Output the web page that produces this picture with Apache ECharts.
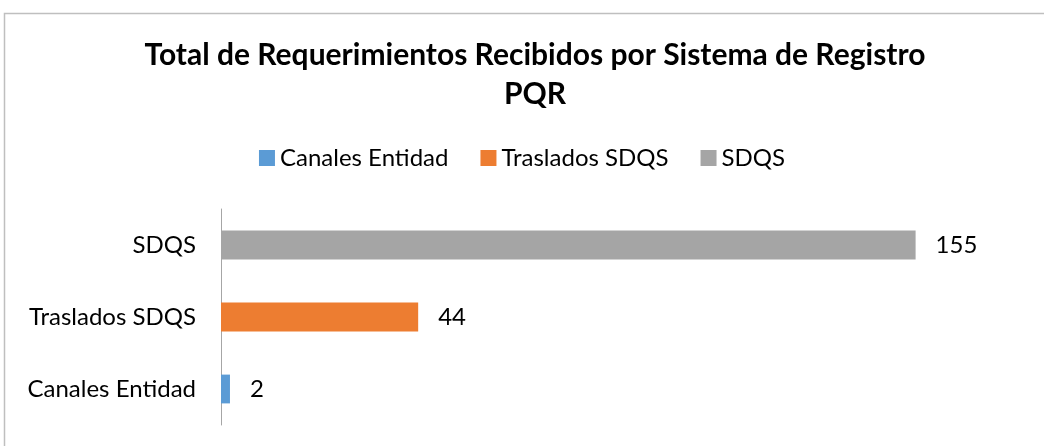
<!DOCTYPE html>
<html>
<head>
<meta charset="utf-8">
<script src="https://cdn.jsdelivr.net/npm/echarts@6/dist/echarts.min.js"></script>
<style>
  html, body { margin: 0; padding: 0; background: #fff; }
  #chart { width: 1044px; height: 446px; }
</style>
</head>
<body>
<div id="chart"></div>
<script>
// datos
const categories = ['Canales Entidad', 'Traslados SDQS', 'SDQS']
const canalesEntidad = [2, '-', '-']
const trasladosSDQS = ['-', 44, '-']
const sdqs = ['-', '-', 155]

const font = 'Lato'
const chart = echarts.init(document.getElementById('chart'))

function makeBar(name, data, color) {
  return {
    type: 'bar',
    name: name,
    data: data,
    stack: 'total',
    barWidth: '40%',
    itemStyle: { color: color },
    label: {
      show: true,
      position: 'right',
      distance: 20,
      color: '#000',
      fontFamily: font,
      fontSize: 24
    },
    animation: false
  }
}

chart.setOption({
  backgroundColor: '#fff',
  title: {
    text: 'Total de Requerimientos Recibidos por Sistema de Registro\nPQR',
    left: 530,
    top: 31,
    textAlign: 'center',
    textStyle: {
      fontFamily: font,
      fontWeight: 'bold',
      fontSize: 30,
      lineHeight: 39,
      color: '#000',
      align: 'center'
    }
  },
  legend: {
    top: 141,
    left: 'center',
    itemWidth: 16,
    itemHeight: 16,
    itemGap: 32,
    textStyle: { fontFamily: font, fontSize: 24, color: '#000' },
    data: [
      { name: 'Canales Entidad', icon: 'rect' },
      { name: 'Traslados SDQS', icon: 'rect' },
      { name: 'SDQS', icon: 'rect' }
    ]
  },
  grid: {
    left: 221,
    right: 106,
    top: 209,
    bottom: 21,
    containLabel: false
  },
  xAxis: {
    type: 'value',
    min: 0,
    max: 160,
    show: false
  },
  yAxis: {
    type: 'category',
    data: categories,
    axisTick: { show: false },
    axisLine: { show: true, lineStyle: { color: '#a6a6a6', width: 1 } },
    axisLabel: { fontFamily: font, fontSize: 24, color: '#000', margin: 25 }
  },
  graphic: [{
    type: 'rect',
    shape: { x: 4.5, y: 13.5, width: 1100, height: 500 },
    style: { fill: 'none', stroke: '#bfbfbf', lineWidth: 1.5 },
    silent: true
  }],
  series: [
    makeBar('Canales Entidad', canalesEntidad, '#5b9bd5'),
    makeBar('Traslados SDQS', trasladosSDQS, '#ed7d31'),
    makeBar('SDQS', sdqs, '#a5a5a5')
  ]
})
</script>
</body>
</html>
